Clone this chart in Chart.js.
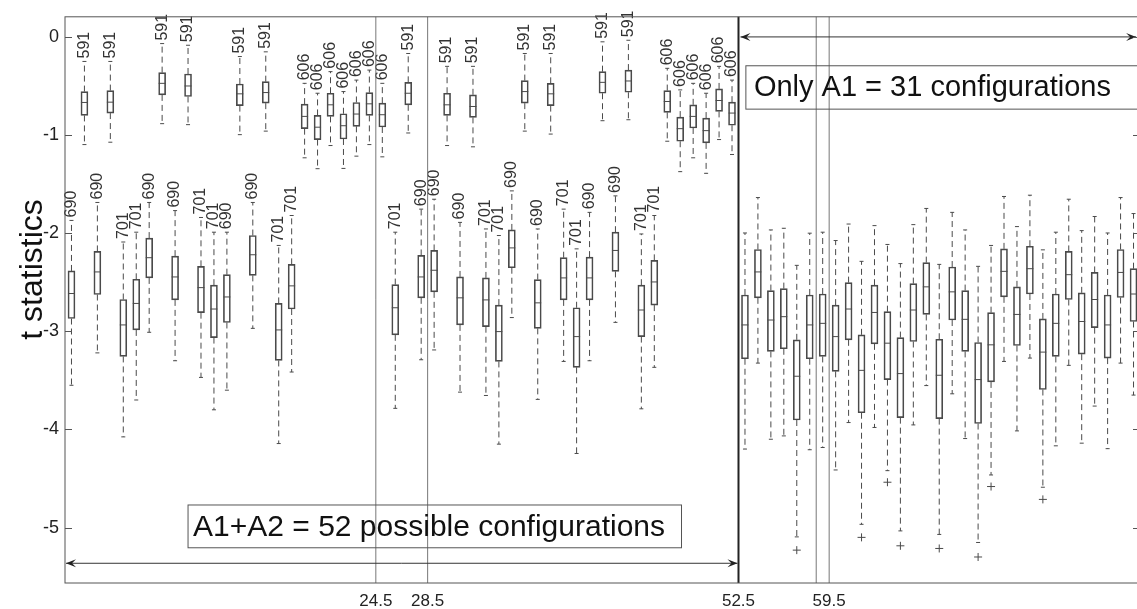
<!DOCTYPE html>
<html>
<head>
<meta charset="utf-8">
<script src="https://cdn.jsdelivr.net/npm/chart.js@4.4.1/dist/chart.umd.min.js"></script>
<style>
  html, body { margin: 0; padding: 0; background: #fff; overflow: hidden; }
  .canvas { position: relative; width: 1148px; height: 609px; }
</style>
</head>
<body>
<div class="canvas"><canvas id="tstatChart"></canvas></div>
<script>
// one box per configuration, x = index + 1
const whiskerHigh = [
  -1.87, -0.25, -1.687, -0.25, -2.09, -1.99, -1.687, -0.068, -1.77, -0.085,
  -1.84, -1.99, -1.99, -0.20, -1.687, -0.152, -2.125, -1.82, -0.473, -0.574,
  -0.354, -0.557, -0.44, -0.338, -0.473, -1.99, -0.169, -1.755, -1.654, -0.30,
  -1.89, -0.30, -1.957, -2.024, -1.569, -0.169, -1.957, -0.169, -1.755, -2.16,
  -1.788, -0.05, -1.62, -0.034, -2.008, -1.82, -0.32, -0.54, -0.473, -0.574,
  -0.30, -0.44,
  -1.998, -1.637, -1.967, -1.95, -2.328, -2.0, -1.99, -2.075, -1.907, -2.287,
  -1.923, -2.115, -2.31, -1.913, -1.748, -2.318, -1.788, -1.967, -2.338, -2.125,
  -1.626, -1.933, -1.613, -2.17, -1.99, -1.654, -1.974, -1.83, -1.998, -1.637,
  -1.80
];
const upperQuartile = [
  -2.385, -0.557, -2.186, -0.547, -2.676, -2.47, -2.05, -0.364, -2.234, -0.378,
  -2.338, -2.53, -2.423, -0.48, -2.024, -0.456, -2.716, -2.318, -0.685, -0.80,
  -0.574, -0.783, -0.668, -0.567, -0.675, -2.524, -0.463, -2.227, -2.176, -0.574,
  -2.446, -0.59, -2.456, -2.733, -1.967, -0.445, -2.473, -0.473, -2.25, -2.76,
  -2.244, -0.354, -1.99, -0.338, -2.53, -2.277, -0.547, -0.817, -0.692, -0.827,
  -0.53, -0.665,
  -2.63, -2.166, -2.585, -2.565, -3.087, -2.63, -2.62, -2.733, -2.504, -3.036,
  -2.53, -2.80, -3.064, -2.514, -2.30, -3.081, -2.345, -2.585, -3.114, -2.81,
  -2.16, -2.547, -2.133, -2.874, -2.62, -2.186, -2.608, -2.40, -2.63, -2.166,
  -2.362
];
const medians = [
  -2.615, -0.668, -2.395, -0.665, -2.935, -2.716, -2.25, -0.473, -2.446, -0.50,
  -2.555, -2.773, -2.65, -0.58, -2.22, -0.567, -2.986, -2.537, -0.81, -0.92,
  -0.692, -0.905, -0.786, -0.682, -0.793, -2.76, -0.574, -2.446, -2.378, -0.692,
  -2.659, -0.709, -2.68, -3.003, -2.15, -0.557, -2.71, -0.58, -2.456, -3.054,
  -2.456, -0.463, -2.176, -0.449, -2.783, -2.497, -0.658, -0.935, -0.81, -0.955,
  -0.648, -0.776,
  -2.935, -2.395, -2.885, -2.851, -3.458, -2.935, -2.919, -3.054, -2.773, -3.398,
  -2.808, -3.121, -3.431, -2.783, -2.547, -3.448, -2.598, -2.878, -3.492, -3.138,
  -2.389, -2.828, -2.362, -3.212, -2.919, -2.423, -2.90, -2.676, -2.935, -2.40,
  -2.62
];
const lowerQuartile = [
  -2.87, -0.80, -2.625, -0.776, -3.256, -2.986, -2.456, -0.591, -2.68, -0.607,
  -2.81, -3.064, -2.91, -0.70, -2.43, -0.675, -3.297, -2.773, -0.935, -1.046,
  -0.81, -1.04, -0.911, -0.80, -0.918, -3.036, -0.692, -2.659, -2.598, -0.80,
  -2.935, -0.82, -2.953, -3.307, -2.352, -0.675, -2.97, -0.70, -2.68, -3.367,
  -2.68, -0.574, -2.389, -0.564, -3.054, -2.733, -0.769, -1.063, -0.928, -1.08,
  -0.759, -0.90,
  -3.28, -2.659, -3.205, -3.178, -3.904, -3.28, -3.256, -3.408, -3.087, -3.83,
  -3.128, -3.492, -3.88, -3.104, -2.828, -3.89, -2.885, -3.205, -3.94, -3.516,
  -2.649, -3.145, -2.62, -3.593, -3.256, -2.676, -3.233, -2.963, -3.273, -2.656,
  -2.90
];
const whiskerLow = [
  -3.55, -1.097, -3.22, -1.073, -4.076, -3.70, -3.01, -0.884, -3.30, -0.894,
  -3.47, -3.80, -3.60, -0.996, -2.97, -0.96, -4.144, -3.415, -1.232, -1.343,
  -1.107, -1.34, -1.215, -1.097, -1.222, -3.785, -0.979, -3.29, -3.19, -1.107,
  -3.62, -1.12, -3.654, -4.15, -2.86, -0.96, -3.694, -0.99, -3.307, -4.245,
  -3.30, -0.854, -2.909, -0.844, -3.79, -3.367, -1.063, -1.373, -1.232, -1.39,
  -1.046, -1.198,
  -4.20, -3.324, -4.10, -4.066, -5.095, -4.207, -4.184, -4.413, -3.93, -4.967,
  -3.98, -4.42, -5.034, -3.954, -3.553, -5.07, -3.637, -4.093, -5.152, -4.464,
  -3.307, -4.015, -3.273, -4.589, -4.167, -3.347, -4.14, -3.762, -4.196, -3.324,
  -3.65
];
// number printed above the first 52 boxes
const boxLabels = [
  '690', '591', '690', '591', '701', '701', '690', '591', '690', '591',
  '701', '701', '690', '591', '690', '591', '701', '701', '606', '606',
  '606', '606', '606', '606', '606', '701', '591', '690', '690', '591',
  '690', '591', '701', '701', '690', '591', '690', '591', '701', '701',
  '690', '591', '690', '591', '701', '701', '606', '606', '606', '606',
  '606', '606'
];
const outlierX = [57, 62, 64, 65, 68, 71, 72, 76];
const outlierY = [-5.23, -5.10, -4.538, -5.186, -5.213, -5.30, -4.582, -4.713];

const xTickValues = [24.5, 28.5, 52.5, 59.5];
const yTickValues = [0, -1, -2, -3, -4, -5];
const thinLines = [24.5, 28.5, 58.5, 59.5];
const splitLine = 52.5;

const FONT = '"Liberation Sans", Arial, sans-serif';
const INK = '#4a4a4a';

const boxData = medians.map((m, i) => ({ x: i + 1, y: [lowerQuartile[i], upperQuartile[i]] }));
const outlierData = outlierX.map((v, i) => ({ x: v, y: outlierY[i] }));

function arrowHead(ctx, tipX, tipY, dir) {
  // dir -1 points left, +1 points right
  const len = 10, half = 4;
  ctx.beginPath();
  ctx.moveTo(tipX, tipY);
  ctx.lineTo(tipX - dir * len, tipY - half);
  ctx.lineTo(tipX - dir * len * 0.6, tipY);
  ctx.lineTo(tipX - dir * len, tipY + half);
  ctx.closePath();
  ctx.fill();
}

const boxExtras = {
  id: 'boxExtras',
  afterDatasetsDraw(chart) {
    const { ctx, chartArea: area, scales: { x, y } } = chart;
    ctx.save();

    // whiskers, caps and medians
    ctx.strokeStyle = INK;
    ctx.lineWidth = 1;
    medians.forEach((m, i) => {
      const px = x.getPixelForValue(i + 1);
      const yHi = y.getPixelForValue(whiskerHigh[i]);
      const yQ3 = y.getPixelForValue(upperQuartile[i]);
      const yQ1 = y.getPixelForValue(lowerQuartile[i]);
      const yLo = y.getPixelForValue(whiskerLow[i]);
      const yMed = y.getPixelForValue(m);

      ctx.setLineDash([6, 4]);
      ctx.beginPath();
      ctx.moveTo(px, yQ3); ctx.lineTo(px, yHi);
      ctx.moveTo(px, yQ1); ctx.lineTo(px, yLo);
      ctx.stroke();

      ctx.setLineDash([]);
      ctx.beginPath();
      ctx.moveTo(px - 2, yHi); ctx.lineTo(px + 2, yHi);
      ctx.moveTo(px - 2, yLo); ctx.lineTo(px + 2, yLo);
      ctx.moveTo(px - 3.5, yMed); ctx.lineTo(px + 3.5, yMed);
      ctx.stroke();

      if (boxLabels[i]) {
        ctx.save();
        ctx.translate(px, yHi - 3);
        ctx.rotate(-Math.PI / 2);
        ctx.fillStyle = '#333';
        ctx.font = '16px ' + FONT;
        ctx.textAlign = 'left';
        ctx.textBaseline = 'middle';
        ctx.fillText(boxLabels[i], 0, 0);
        ctx.restore();
      }
    });

    // separators
    ctx.strokeStyle = '#777';
    ctx.lineWidth = 1;
    thinLines.forEach(v => {
      const px = x.getPixelForValue(v);
      ctx.beginPath();
      ctx.moveTo(px, area.top); ctx.lineTo(px, area.bottom);
      ctx.stroke();
    });
    ctx.strokeStyle = '#222';
    ctx.lineWidth = 2;
    const sx = x.getPixelForValue(splitLine);
    ctx.beginPath();
    ctx.moveTo(sx, area.top); ctx.lineTo(sx, area.bottom);
    ctx.stroke();

    // range arrows
    ctx.strokeStyle = '#333';
    ctx.fillStyle = '#222';
    ctx.lineWidth = 1;
    const yb = y.getPixelForValue(-5.364);
    const xa = x.getPixelForValue(0.5) + 1, xb = x.getPixelForValue(52.5) - 1;
    ctx.beginPath(); ctx.moveTo(xa, yb); ctx.lineTo(xb, yb); ctx.stroke();
    arrowHead(ctx, xa, yb, -1);
    arrowHead(ctx, xb, yb, 1);
    const yt = y.getPixelForValue(0);
    const xc = x.getPixelForValue(52.5) + 2, xd = x.getPixelForValue(83.2);
    ctx.beginPath(); ctx.moveTo(xc, yt); ctx.lineTo(xd, yt); ctx.stroke();
    arrowHead(ctx, xc, yt, -1);
    arrowHead(ctx, xd, yt, 1);

    // text boxes
    ctx.strokeStyle = '#555';
    ctx.fillStyle = '#111';
    ctx.font = '30px ' + FONT;
    ctx.textAlign = 'left';
    ctx.textBaseline = 'middle';
    const b1l = x.getPixelForValue(10.0), b1r = x.getPixelForValue(48.1);
    const b1t = y.getPixelForValue(-4.77), b1b = y.getPixelForValue(-5.206);
    ctx.strokeRect(b1l, b1t, b1r - b1l, b1b - b1t);
    ctx.fillText('A1+A2 = 52 possible configurations', b1l + 5, (b1t + b1b) / 2 + 1);
    const b2l = x.getPixelForValue(53.07), b2r = x.getPixelForValue(84.5);
    const b2t = y.getPixelForValue(-0.294), b2b = y.getPixelForValue(-0.736);
    ctx.strokeRect(b2l, b2t, b2r - b2l, b2b - b2t);
    ctx.font = '29px ' + FONT;
    ctx.fillText('Only A1 = 31 configurations', b2l + 8, (b2t + b2b) / 2 + 1);

    // frame and inward y ticks on both sides
    ctx.strokeStyle = '#555';
    ctx.lineWidth = 1;
    ctx.strokeRect(area.left, area.top, area.right - area.left, area.bottom - area.top);
    ctx.beginPath();
    yTickValues.forEach(v => {
      const py = Math.round(y.getPixelForValue(v)) + 0.5;
      ctx.moveTo(area.left, py); ctx.lineTo(area.left + 7, py);
      ctx.moveTo(area.right, py); ctx.lineTo(area.right - 7, py);
    });
    ctx.stroke();

    // y axis title, sits a bit above the middle of the axis
    ctx.save();
    ctx.translate(33, y.getPixelForValue(-2.37));
    ctx.rotate(-Math.PI / 2);
    ctx.fillStyle = '#111';
    ctx.font = '32px ' + FONT;
    ctx.textAlign = 'center';
    ctx.textBaseline = 'middle';
    ctx.fillText('t statistics', 0, 0);
    ctx.restore();

    ctx.restore();
  }
};

new Chart(document.getElementById('tstatChart').getContext('2d'), {
  type: 'bar',
  data: {
    datasets: [{
      label: 'boxes',
      data: boxData,
      backgroundColor: 'rgba(255,255,255,0)',
      borderColor: INK,
      borderWidth: 1,
      borderSkipped: false,
      barThickness: 7
    }, {
      type: 'scatter',
      label: 'outliers',
      data: outlierData,
      pointStyle: 'cross',
      radius: 4,
      borderColor: INK,
      borderWidth: 1
    }]
  },
  options: {
    responsive: true,
    maintainAspectRatio: false,
    animation: false,
    layout: { padding: { left: 14, top: 13, right: 8, bottom: 0 } },
    plugins: { legend: { display: false }, tooltip: { enabled: false } },
    scales: {
      x: {
        type: 'linear',
        min: 0.5,
        max: 83.5,
        offset: false,
        grid: { display: false, drawTicks: false },
        border: { display: false },
        afterBuildTicks: axis => { axis.ticks = xTickValues.map(v => ({ value: v })); },
        afterFit: axis => { axis.height = 26; },
        ticks: {
          callback: v => String(v),
          autoSkip: false,
          maxRotation: 0,
          padding: 8,
          color: '#222',
          font: { family: FONT, size: 17 }
        }
      },
      y: {
        min: -5.565,
        max: 0.205,
        grid: { display: false, drawTicks: false },
        border: { display: false },
        afterBuildTicks: axis => { axis.ticks = yTickValues.map(v => ({ value: v })); },
        afterFit: axis => { axis.width = 51; },
        ticks: {
          callback: v => String(v),
          padding: 6,
          color: '#222',
          font: { family: FONT, size: 18 }
        }
      }
    }
  },
  plugins: [boxExtras]
});
</script>
</body>
</html>
